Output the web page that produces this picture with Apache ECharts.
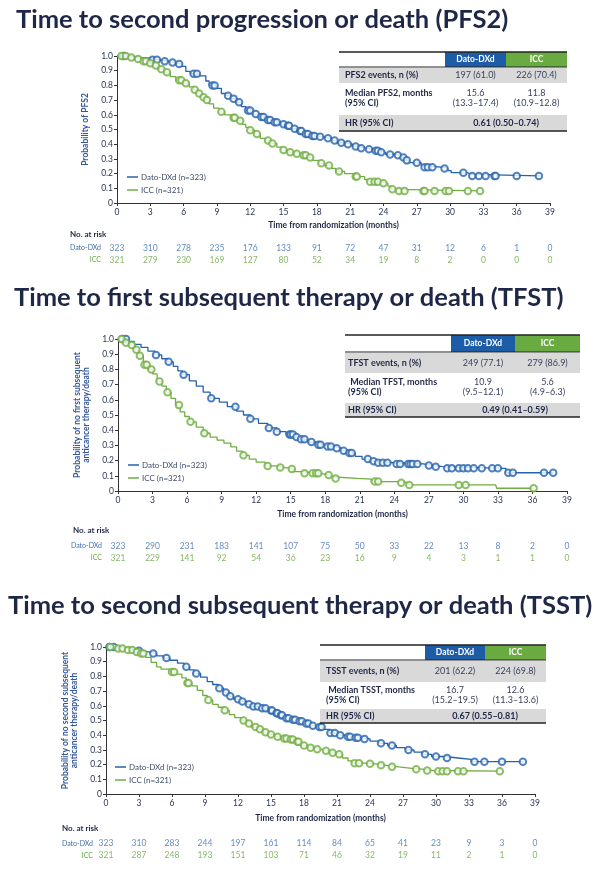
<!DOCTYPE html>
<html>
<head>
<meta charset="utf-8">
<script src="https://cdn.jsdelivr.net/npm/echarts@6/dist/echarts.min.js"></script>
<style>
html, body { margin: 0; padding: 0; background: #fff; }
#chart { width: 600px; height: 870px; }
</style>
</head>
<body>
<div id="chart"></div>
<script>
var months = [0, 3, 6, 9, 12, 15, 18, 21, 24, 27, 30, 33, 36, 39];
var riskRows = ['ICC', 'Dato-DXd'];
var armNames = ['Dato-DXd (n=323)', 'ICC (n=321)'];

// PFS2
var pfs2Dato = [[0,1],[1.2,0.99],[2.2,0.985],[3.0,0.975],[3.8,0.965],[4.5,0.955],[5.2,0.945],[5.8,0.93],[6.2,0.895],[6.6,0.88],[7.4,0.865],[8.0,0.83],[8.3,0.80],[8.9,0.78],[9.4,0.745],[9.8,0.73],[10.3,0.71],[10.8,0.685],[11.2,0.655],[11.6,0.63],[12.2,0.605],[12.8,0.585],[13.4,0.565],[14.0,0.55],[14.6,0.535],[15.2,0.525],[15.7,0.505],[16.2,0.49],[16.8,0.47],[17.4,0.455],[18.0,0.45],[18.6,0.44],[19.3,0.425],[19.8,0.41],[20.5,0.40],[21.2,0.385],[21.8,0.372],[22.4,0.365],[23.0,0.355],[23.6,0.345],[24.2,0.33],[25.0,0.325],[25.6,0.31],[26.0,0.29],[26.3,0.274],[27.4,0.255],[27.6,0.243],[29.4,0.235],[29.8,0.22],[30.1,0.206],[31.6,0.195],[31.9,0.184],[38.1,0.184]];
var pfs2DatoCens = [[0.6,1],[3.2,0.975],[3.6,0.975],[4.3,0.965],[5.0,0.955],[5.6,0.945],[6.9,0.88],[7.2,0.88],[8.6,0.80],[8.8,0.80],[10.0,0.73],[10.5,0.71],[11.0,0.685],[11.8,0.63],[12.0,0.63],[12.5,0.605],[13.0,0.585],[13.2,0.585],[13.6,0.565],[13.8,0.565],[14.2,0.55],[14.4,0.55],[15.0,0.535],[15.4,0.525],[15.5,0.525],[16.0,0.505],[16.5,0.49],[16.6,0.49],[17.0,0.47],[17.2,0.47],[17.6,0.455],[17.8,0.455],[18.3,0.45],[19.0,0.44],[19.6,0.425],[20.2,0.41],[20.8,0.40],[21.5,0.385],[22.0,0.372],[22.7,0.365],[23.3,0.355],[23.5,0.355],[23.8,0.345],[24.6,0.33],[25.3,0.325],[25.8,0.31],[26.1,0.29],[27.0,0.274],[27.7,0.243],[28.0,0.243],[28.4,0.243],[29.5,0.235],[31.2,0.206],[32.0,0.184],[32.6,0.184],[33.2,0.184],[34.0,0.184],[34.1,0.184],[36.0,0.184],[38.0,0.184]];
var pfs2Icc = [[0,1],[1.0,0.99],[1.6,0.98],[2.2,0.965],[2.7,0.95],[3.2,0.935],[3.7,0.91],[4.3,0.89],[4.8,0.86],[5.3,0.835],[6.0,0.815],[6.5,0.79],[6.9,0.77],[7.2,0.745],[7.5,0.72],[8.0,0.70],[8.3,0.675],[8.7,0.645],[9.2,0.62],[9.7,0.60],[10.3,0.58],[10.9,0.56],[11.3,0.535],[11.6,0.515],[11.9,0.495],[12.4,0.47],[12.9,0.44],[13.4,0.425],[13.9,0.405],[14.4,0.38],[14.8,0.36],[15.4,0.345],[16.0,0.335],[16.6,0.325],[17.2,0.31],[17.6,0.29],[18.2,0.27],[18.7,0.255],[19.3,0.235],[19.7,0.215],[20.5,0.2],[21.4,0.18],[22.3,0.16],[22.6,0.145],[23.8,0.134],[24.4,0.115],[24.7,0.093],[25.2,0.082],[32.7,0.082]];
var pfs2IccCens = [[0.4,1],[0.8,1],[1.3,0.99],[1.9,0.98],[2.4,0.965],[2.6,0.965],[3.0,0.95],[3.5,0.935],[4.0,0.91],[4.5,0.89],[5.6,0.835],[5.8,0.835],[6.2,0.815],[7.0,0.77],[7.4,0.745],[7.8,0.72],[8.1,0.70],[9.4,0.62],[10.5,0.58],[10.6,0.58],[11.1,0.56],[12.0,0.495],[12.6,0.47],[13.6,0.425],[14.0,0.405],[15.0,0.36],[15.6,0.345],[16.2,0.335],[16.8,0.325],[17.0,0.325],[17.4,0.31],[18.4,0.27],[19.1,0.255],[20.0,0.215],[21.5,0.18],[21.6,0.18],[22.8,0.145],[23.2,0.145],[23.5,0.145],[24.0,0.134],[24.8,0.093],[25.4,0.082],[25.9,0.082],[27.6,0.082],[27.7,0.082],[28.6,0.082],[29.6,0.082],[29.9,0.082],[31.6,0.082],[32.7,0.082]];
var pfs2RiskDato = [323, 310, 278, 235, 176, 133, 91, 72, 47, 31, 12, 6, 1, 0];
var pfs2RiskIcc = [321, 279, 230, 169, 127, 80, 52, 34, 19, 8, 2, 0, 0, 0];
var pfs2Rows = ['PFS2 events, n (%)', 'Median PFS2, months', '(95% CI)', 'HR (95% CI)'];
var pfs2Dato_tbl = ['197 (61.0)', '15.6', '(13.3\u201317.4)'];
var pfs2Icc_tbl = ['226 (70.4)', '11.8', '(10.9\u201312.8)'];
var pfs2Hr = '0.61 (0.50\u20130.74)';

// TFST
var tfstDato = [[0,1],[0.9,0.985],[1.4,0.965],[2.0,0.945],[2.6,0.92],[3.2,0.895],[3.8,0.87],[4.3,0.85],[4.8,0.82],[5.2,0.79],[5.6,0.765],[6.2,0.725],[6.8,0.69],[7.4,0.65],[8.0,0.61],[8.8,0.585],[9.5,0.555],[10.3,0.525],[10.9,0.5],[11.5,0.475],[12.2,0.445],[13.0,0.415],[13.8,0.39],[14.6,0.372],[15.3,0.355],[15.9,0.34],[16.5,0.322],[17.2,0.305],[17.9,0.292],[18.9,0.282],[19.4,0.265],[20.0,0.25],[20.6,0.228],[21.2,0.21],[21.8,0.195],[22.4,0.186],[24.0,0.178],[26.5,0.168],[27.3,0.16],[28.2,0.149],[33.5,0.149],[33.7,0.12],[37.8,0.12]];
var tfstDatoCens = [[0.4,1],[0.7,1],[3.3,0.895],[4.4,0.85],[5.7,0.765],[8.1,0.61],[10.2,0.555],[11.5,0.475],[13.1,0.415],[13.8,0.39],[14.9,0.372],[15.0,0.372],[15.2,0.372],[15.5,0.355],[15.9,0.34],[16.2,0.34],[16.8,0.322],[17.4,0.305],[17.6,0.305],[18.2,0.292],[18.5,0.292],[19.0,0.282],[19.6,0.265],[20.1,0.25],[20.3,0.25],[21.7,0.21],[22.2,0.195],[22.6,0.186],[23.0,0.186],[23.4,0.186],[24.2,0.178],[24.5,0.178],[25.2,0.178],[25.4,0.178],[25.6,0.178],[26.0,0.178],[27.0,0.168],[27.6,0.16],[28.6,0.149],[29.0,0.149],[29.6,0.149],[30.0,0.149],[30.4,0.149],[30.9,0.149],[31.6,0.149],[32.5,0.149],[33.0,0.149],[33.9,0.12],[34.3,0.12],[37.0,0.12],[37.8,0.12]];
var tfstIcc = [[0,1],[0.6,0.975],[1.1,0.96],[1.5,0.93],[1.8,0.89],[2.2,0.83],[2.6,0.80],[3.0,0.77],[3.4,0.72],[3.8,0.69],[4.2,0.65],[4.6,0.61],[5.0,0.565],[5.4,0.52],[5.8,0.49],[6.2,0.455],[6.8,0.42],[7.4,0.38],[8.0,0.355],[8.6,0.335],[9.2,0.315],[9.8,0.29],[10.3,0.262],[10.8,0.235],[11.4,0.21],[12.0,0.19],[12.8,0.165],[13.6,0.155],[14.4,0.145],[15.2,0.127],[16.0,0.116],[17.6,0.105],[18.4,0.092],[18.8,0.083],[20.8,0.078],[22.0,0.062],[24.5,0.055],[25.2,0.04],[32.8,0.04],[32.9,0.018],[36.1,0.018]];
var tfstIccCens = [[0.3,1],[0.7,0.975],[1.2,0.96],[1.6,0.93],[1.9,0.89],[2.3,0.83],[2.5,0.83],[2.9,0.80],[3.6,0.72],[4.3,0.65],[5.3,0.565],[6.3,0.455],[7.5,0.38],[10.9,0.235],[13.0,0.165],[14.1,0.155],[15.1,0.145],[16.2,0.116],[16.9,0.116],[17.2,0.116],[17.4,0.116],[18.3,0.105],[18.9,0.083],[22.3,0.062],[22.6,0.062],[24.6,0.055],[25.3,0.04],[29.6,0.04],[30.2,0.04],[36.1,0.018]];
var tfstRiskDato = [323, 290, 231, 183, 141, 107, 75, 50, 33, 22, 13, 8, 2, 0];
var tfstRiskIcc = [321, 229, 141, 92, 54, 36, 23, 16, 9, 4, 3, 1, 1, 0];
var tfstRows = ['TFST events, n (%)', ' Median TFST, months', '(95% CI)', 'HR (95% CI)'];
var tfstDato_tbl = ['249 (77.1)', '10.9', '(9.5\u201312.1)'];
var tfstIcc_tbl = ['279 (86.9)', '5.6', '(4.9\u20136.3)'];
var tfstHr = '0.49 (0.41\u20130.59)';

// TSST
var tsstDato = [[0,1],[0.9,0.995],[1.8,0.985],[2.6,0.975],[3.2,0.965],[4.0,0.955],[4.6,0.94],[5.2,0.925],[5.8,0.91],[6.5,0.89],[7.1,0.865],[7.6,0.845],[8.0,0.82],[8.6,0.795],[9.2,0.765],[9.7,0.745],[10.2,0.72],[10.7,0.69],[11.2,0.665],[11.6,0.645],[12.2,0.63],[12.8,0.61],[13.2,0.595],[14.0,0.584],[14.8,0.568],[15.3,0.55],[15.8,0.535],[16.2,0.515],[16.8,0.505],[17.4,0.495],[18.0,0.48],[18.6,0.465],[19.2,0.455],[19.8,0.44],[20.3,0.415],[21.0,0.40],[21.6,0.39],[22.4,0.383],[23.2,0.375],[24.0,0.36],[24.8,0.345],[25.6,0.33],[26.4,0.315],[27.2,0.30],[28.0,0.285],[28.8,0.27],[29.6,0.255],[30.8,0.245],[32.0,0.235],[33.2,0.22],[38.0,0.22]];
var tsstDatoCens = [[0.3,1],[0.7,1],[3.0,0.975],[4.3,0.955],[5.5,0.925],[7.3,0.865],[8.2,0.82],[10.3,0.72],[10.9,0.69],[11.3,0.665],[12.0,0.645],[12.4,0.63],[13.0,0.61],[13.4,0.595],[13.8,0.595],[14.2,0.584],[14.5,0.584],[15.0,0.568],[15.1,0.568],[15.5,0.55],[15.6,0.55],[15.9,0.535],[16.0,0.535],[16.4,0.515],[16.6,0.515],[17.0,0.505],[17.2,0.505],[17.6,0.495],[17.8,0.495],[18.2,0.48],[18.4,0.48],[18.8,0.465],[19.4,0.455],[19.6,0.455],[20.4,0.415],[20.8,0.415],[21.3,0.40],[22.0,0.39],[22.2,0.39],[22.7,0.383],[22.9,0.383],[23.5,0.375],[25.0,0.345],[26.0,0.33],[27.5,0.30],[29.0,0.27],[30.0,0.255],[31.0,0.245],[33.5,0.22],[34.4,0.22],[36.0,0.22],[37.9,0.22]];
var tsstIcc = [[0,1],[1.0,0.99],[1.9,0.98],[2.6,0.966],[3.1,0.955],[3.6,0.93],[4.1,0.895],[4.6,0.865],[5.0,0.85],[5.8,0.83],[6.4,0.815],[6.9,0.79],[7.3,0.755],[7.8,0.735],[8.3,0.705],[8.8,0.67],[9.2,0.64],[9.7,0.61],[10.2,0.59],[10.7,0.57],[11.2,0.54],[11.7,0.52],[12.3,0.50],[12.8,0.48],[13.2,0.455],[13.8,0.44],[14.3,0.42],[14.8,0.405],[15.4,0.39],[16.0,0.378],[16.6,0.37],[17.2,0.355],[17.7,0.33],[18.3,0.315],[18.9,0.305],[19.5,0.295],[20.2,0.28],[20.9,0.27],[21.5,0.245],[22.0,0.225],[22.4,0.21],[23.5,0.205],[24.5,0.195],[25.5,0.185],[26.6,0.175],[27.8,0.168],[29.0,0.16],[29.6,0.155],[35.8,0.155]];
var tsstIccCens = [[0.4,1],[1.1,0.99],[1.5,0.99],[2.0,0.98],[2.4,0.98],[2.8,0.966],[3.2,0.955],[3.4,0.955],[6.0,0.83],[6.2,0.83],[7.4,0.755],[7.5,0.755],[9.3,0.64],[10.8,0.57],[12.5,0.50],[13.0,0.48],[13.6,0.455],[14.0,0.44],[14.5,0.42],[15.0,0.405],[15.6,0.39],[16.2,0.378],[16.4,0.378],[16.8,0.37],[17.0,0.37],[17.4,0.355],[17.5,0.355],[18.0,0.33],[18.6,0.315],[19.2,0.305],[20.0,0.295],[20.6,0.28],[21.2,0.27],[22.6,0.21],[23.0,0.21],[24.0,0.205],[25.0,0.195],[26.0,0.185],[28.2,0.168],[29.2,0.16],[30.2,0.155],[30.6,0.155],[31.0,0.155],[32.0,0.155],[32.5,0.155],[35.8,0.155]];
var tsstRiskDato = [323, 310, 283, 244, 197, 161, 114, 84, 65, 41, 23, 9, 3, 0];
var tsstRiskIcc = [321, 287, 248, 193, 151, 103, 71, 46, 32, 19, 11, 2, 1, 0];
var tsstRows = ['TSST events, n (%)', ' Median TSST, months', '(95% CI)', 'HR (95% CI)'];
var tsstDato_tbl = ['201 (62.2)', '16.7', '(15.2\u201319.5)'];
var tsstIcc_tbl = ['224 (69.8)', '12.6', '(11.3\u201313.6)'];
var tsstHr = '0.67 (0.55\u20130.81)';

var FONT = 'Lato, "Noto Sans", sans-serif';
var NAVY = '#1f2747';
var BLUE = '#2563ad';
var GREEN = '#70ae42';
var BLUE_T = '#3f6fae';
var GREEN_T = '#6aa542';

var panels = [
    {
        title: 'Time to second progression or death (PFS2)', titleX: 16, titleY: 20,
        grid: { left: 117, top: 56, width: 433, height: 147 },
        yName: 'Probability of PFS2', yNameGap: 27, xNameGap: 18,
        legend: { left: 127, top: 172 },
        risk: { top: 242, height: 24, labelMargin: 16, noX: 70, noY: 234 },
        km: [pfs2Dato, pfs2Icc], cens: [pfs2DatoCens, pfs2IccCens], riskVals: [pfs2RiskDato, pfs2RiskIcc],
        rows: pfs2Rows, datoTbl: pfs2Dato_tbl, iccTbl: pfs2Icc_tbl, hr: pfs2Hr,
        tbl: { x0: 339, xd: 445, xi: 506, x1: 567, y0: 52, yh: 67, y1: 83, y2: 114, y3: 131, lx: 345 }
    },
    {
        title: 'Time to first subsequent therapy or death (TFST)', titleX: 14, titleY: 298,
        grid: { left: 118, top: 339, width: 449, height: 152 },
        yName: 'Probability of no first subsequent\nanticancer therapy/death', yNameGap: 20, xNameGap: 19,
        legend: { left: 128, top: 460 },
        risk: { top: 540, height: 24, labelMargin: 16, noX: 73, noY: 530 },
        km: [tfstDato, tfstIcc], cens: [tfstDatoCens, tfstIccCens], riskVals: [tfstRiskDato, tfstRiskIcc],
        rows: tfstRows, datoTbl: tfstDato_tbl, iccTbl: tfstIcc_tbl, hr: tfstHr,
        tbl: { x0: 345, xd: 451, xi: 515, x1: 580, y0: 335, yh: 352, y1: 373, y2: 402, y3: 417, lx: 348 }
    },
    {
        title: 'Time to second subsequent therapy or death (TSST)', titleX: 8, titleY: 606,
        grid: { left: 106, top: 647, width: 429, height: 147 },
        yName: 'Probability of no second subsequent\nanticancer therapy/death', yNameGap: 24, xNameGap: 20,
        legend: { left: 115, top: 762 },
        risk: { top: 837, height: 25, labelMargin: 13, noX: 62, noY: 828 },
        km: [tsstDato, tsstIcc], cens: [tsstDatoCens, tsstIccCens], riskVals: [tsstRiskDato, tsstRiskIcc],
        rows: tsstRows, datoTbl: tsstDato_tbl, iccTbl: tsstIcc_tbl, hr: tsstHr,
        tbl: { x0: 320, xd: 425, xi: 485, x1: 546, y0: 645, yh: 660, y1: 682, y2: 708, y3: 723, lx: 326 }
    }
];

function txt(x, y, s, font, fill, align, valign) {
    return {
        type: 'text', x: x, y: y, z: 10,
        style: {
            text: s, font: font, fill: fill,
            align: align || 'left', verticalAlign: valign || 'middle',
            textAlign: align || 'left', textVerticalAlign: valign || 'middle'
        }
    };
}

function rect(x, y, w, h, fill) {
    return { type: 'rect', z: 5, shape: { x: x, y: y, width: w, height: h }, style: { fill: fill } };
}

function hline(x0, x1, y, w) {
    return { type: 'line', z: 8, shape: { x1: x0, y1: y, x2: x1, y2: y }, style: { stroke: '#222', lineWidth: w } };
}

function tableGraphics(p) {
    var t = p.tbl;
    var bold = 'bold 9px ' + FONT;
    var reg = '9px ' + FONT;
    var cd = (t.xd + t.xi) / 2, ci = (t.xi + t.x1) / 2;
    var ym = (t.y1 + t.y2) / 2;
    return [
        rect(t.xd, t.y0, t.xi - t.xd, t.yh - t.y0, '#1d5ca6'),
        rect(t.xi, t.y0, t.x1 - t.xi, t.yh - t.y0, '#6aab41'),
        rect(t.x0, t.yh + 1, t.x1 - t.x0, t.y1 - t.yh - 1, '#d9d9d9'),
        rect(t.x0, t.y2 + 1, t.x1 - t.x0, t.y3 - t.y2 - 1, '#d9d9d9'),
        hline(t.x0, t.x1, t.y0, 1.5),
        hline(t.x0, t.x1, t.yh, 1),
        hline(t.x0, t.x1, t.y3, 1.5),
        txt(cd, (t.y0 + t.yh) / 2, 'Dato-DXd', 'bold 8.5px ' + FONT, '#fff', 'center'),
        txt(ci, (t.y0 + t.yh) / 2, 'ICC', 'bold 8.5px ' + FONT, '#fff', 'center'),
        txt(t.lx, (t.yh + t.y1) / 2 + 0.5, p.rows[0], bold, NAVY),
        txt(t.lx, ym - 5, p.rows[1], bold, NAVY),
        txt(t.lx, ym + 5, p.rows[2], bold, NAVY),
        txt(t.lx, (t.y2 + t.y3) / 2 + 0.5, p.rows[3], bold, NAVY),
        txt(cd, (t.yh + t.y1) / 2 + 0.5, p.datoTbl[0], reg, '#3a4260', 'center'),
        txt(ci, (t.yh + t.y1) / 2 + 0.5, p.iccTbl[0], reg, '#3a4260', 'center'),
        txt(cd, ym - 5, p.datoTbl[1], reg, '#3a4260', 'center'),
        txt(cd, ym + 5, p.datoTbl[2], reg, '#3a4260', 'center'),
        txt(ci, ym - 5, p.iccTbl[1], reg, '#3a4260', 'center'),
        txt(ci, ym + 5, p.iccTbl[2], reg, '#3a4260', 'center'),
        txt(t.xi, (t.y2 + t.y3) / 2 + 0.5, p.hr, bold, NAVY, 'center')
    ];
}

var grids = [], xAxes = [], yAxes = [], series = [], legends = [], graphics = [];

panels.forEach(function (p, i) {
    var g = 2 * i, r = 2 * i + 1;
    grids.push({ left: p.grid.left, top: p.grid.top, width: p.grid.width, height: p.grid.height });
    grids.push({ left: p.grid.left, top: p.risk.top, width: p.grid.width, height: p.risk.height });

    xAxes.push({
        gridIndex: g, type: 'value', min: 0, max: 39, interval: 3,
        name: 'Time from randomization (months)', nameLocation: 'middle', nameGap: p.xNameGap,
        nameTextStyle: { fontFamily: FONT, fontWeight: 'bold', fontSize: 8.5, color: NAVY },
        axisLine: { lineStyle: { color: '#333', width: 1 } },
        axisTick: { length: 3, lineStyle: { color: '#333' } },
        axisLabel: { fontFamily: FONT, fontSize: 8.5, color: '#2b3553', margin: 5 },
        splitLine: { show: false }
    });
    xAxes.push({ gridIndex: r, type: 'value', min: 0, max: 39, show: false });

    yAxes.push({
        gridIndex: g, type: 'value', min: 0, max: 1, interval: 0.1,
        name: p.yName, nameLocation: 'middle', nameGap: p.yNameGap, nameRotate: 90,
        nameTextStyle: { fontFamily: FONT, fontWeight: 'bold', fontSize: 8.5, color: '#33579a', lineHeight: 9.5 },
        axisLine: { show: true, lineStyle: { color: '#333', width: 1 } },
        axisTick: { show: true, length: 3, lineStyle: { color: '#333' } },
        axisLabel: {
            fontFamily: FONT, fontSize: 8.5, color: '#2b3553', margin: 4,
            formatter: function (v) { return v === 0 ? '0' : v.toFixed(1); }
        },
        splitLine: { show: false }
    });
    yAxes.push({
        gridIndex: r, type: 'category', data: riskRows, boundaryGap: true,
        axisLine: { show: false }, axisTick: { show: false },
        axisLabel: {
            fontFamily: FONT, fontSize: 7, margin: p.risk.labelMargin,
            color: function (v) { return v === 'ICC' ? GREEN_T : BLUE_T; }
        }
    });

    var cols = [BLUE, GREEN];
    for (var a = 0; a < 2; a++) {
        series.push({
            name: armNames[a], type: 'line', step: 'end', xAxisIndex: g, yAxisIndex: g,
            data: p.km[a], showSymbol: false, symbol: 'none',
            lineStyle: { color: cols[a], width: 1.3 }, itemStyle: { color: cols[a] },
            z: 3, animation: false
        });
        series.push({
            name: armNames[a] + ' censored', type: 'scatter', xAxisIndex: g, yAxisIndex: g,
            data: p.cens[a], symbol: 'emptyCircle', symbolSize: 6.5,
            itemStyle: { color: cols[a], borderColor: cols[a], borderWidth: 1.2 },
            z: 4, animation: false
        });
        series.push({
            name: riskRows[1 - a] + ' at risk', type: 'scatter', xAxisIndex: r, yAxisIndex: r,
            data: months.map(function (m, j) { return [m, riskRows[1 - a], p.riskVals[a][j]]; }),
            symbolSize: 1, itemStyle: { color: 'transparent' },
            label: {
                show: true, position: 'inside', fontFamily: FONT, fontSize: 8.5,
                color: a === 0 ? BLUE_T : GREEN_T,
                formatter: function (q) { return q.data[2]; }
            },
            animation: false, silent: true
        });
    }

    legends.push({
        left: p.legend.left, top: p.legend.top, orient: 'vertical',
        data: armNames, icon: 'rect', itemWidth: 11, itemHeight: 1.5, itemGap: 3,
        textStyle: { fontFamily: FONT, fontSize: 8, color: '#3d4a6b', lineHeight: 10, padding: [0, 0, 0, -2] },
        padding: 0, selectedMode: false
    });

    graphics.push(txt(p.titleX, p.titleY, p.title, 'bold 25.5px ' + FONT, NAVY));
    graphics.push(txt(p.risk.noX, p.risk.noY, 'No. at risk', 'bold 8px ' + FONT, NAVY));
    graphics = graphics.concat(tableGraphics(p));
});

var chart = echarts.init(document.getElementById('chart'), null, { renderer: 'canvas' });
chart.setOption({
    animation: false,
    backgroundColor: '#fff',
    grid: grids,
    xAxis: xAxes,
    yAxis: yAxes,
    legend: legends,
    series: series,
    graphic: { elements: graphics }
});
</script>
</body>
</html>
